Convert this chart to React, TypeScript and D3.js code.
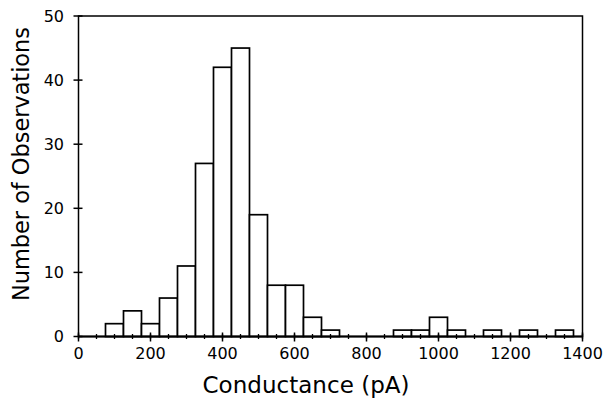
import React from "react";
import * as d3 from "d3";

const binCenters = [100, 150, 200, 250, 300, 350, 400, 450, 500, 550, 600, 650, 700, 750, 800, 850, 900, 950, 1000, 1050, 1100, 1150, 1200, 1250, 1300, 1350];
const counts = [2, 4, 2, 6, 11, 27, 42, 45, 19, 8, 8, 3, 1, 0, 0, 0, 1, 1, 3, 1, 0, 1, 0, 1, 0, 1];
const binWidth = 50;
const xMajorTicks = [0, 200, 400, 600, 800, 1000, 1200, 1400];
const yTicks = [0, 10, 20, 30, 40, 50];
const xTitle = "Conductance (pA)";
const yTitle = "Number of Observations";

export default function App() {
  const W = 605, H = 398;
  const x = d3.scaleLinear().domain([0, 1400]).range([78.5, 582.5]);
  const y = d3.scaleLinear().domain([0, 50]).range([336.5, 16]);
  const minorTicks = d3.range(0, 1401, 50);
  const font = "'DejaVu Sans', sans-serif";
  const bars = binCenters.map((c, i) => ({ c, v: counts[i] })).filter(d => d.v > 0);

  return (
    <svg width={W} height={H} style={{ position: "absolute", left: 0, top: 0, background: "#fff" }}>
      {/* frame */}
      <rect x={x(0)} y={y(50)} width={x(1400) - x(0)} height={y(0) - y(50)} fill="none" stroke="#000" strokeWidth={1.5} />
      {/* bars */}
      {bars.map((d, i) => (
        <rect key={i} x={x(d.c - binWidth / 2)} y={y(d.v)} width={x(d.c + binWidth / 2) - x(d.c - binWidth / 2)} height={y(0) - y(d.v)}
          fill="#fff" stroke="#000" strokeWidth={1.7} />
      ))}
      {/* x axis line */}
      <line x1={x(0)} x2={x(1400)} y1={y(0)} y2={y(0)} stroke="#000" strokeWidth={2} />
      {/* minor x ticks */}
      {minorTicks.map(t => (
        <line key={"m" + t} x1={x(t)} x2={x(t)} y1={y(0) - 2.5} y2={y(0) + 2.5} stroke="#000" strokeWidth={1.3} />
      ))}
      {xMajorTicks.map(t => (
        <g key={"x" + t}>
          <line x1={x(t)} x2={x(t)} y1={y(0) - 4} y2={y(0) + 5} stroke="#000" strokeWidth={1.5} />
          <text x={x(t)} y={359} textAnchor="middle" fontFamily={font} fontSize={16} fill="#000">{t}</text>
        </g>
      ))}
      {yTicks.map(t => (
        <g key={"y" + t}>
          <line x1={x(0) - 5} x2={x(0) + 4} y1={y(t)} y2={y(t)} stroke="#000" strokeWidth={1.5} />
          <text x={64} y={y(t)} dy="0.36em" textAnchor="end" fontFamily={font} fontSize={16} fill="#000">{t}</text>
        </g>
      ))}
      <text x={306} y={393} textAnchor="middle" fontFamily={font} fontSize={23} textLength={207} lengthAdjust="spacing" fill="#000">{xTitle}</text>
      <text transform={`translate(28.5,${(27 + 301) / 2}) rotate(-90)`} textAnchor="middle" fontFamily={font} fontSize={22.5} textLength={274} lengthAdjust="spacing" fill="#000">{yTitle}</text>
    </svg>
  );
}
